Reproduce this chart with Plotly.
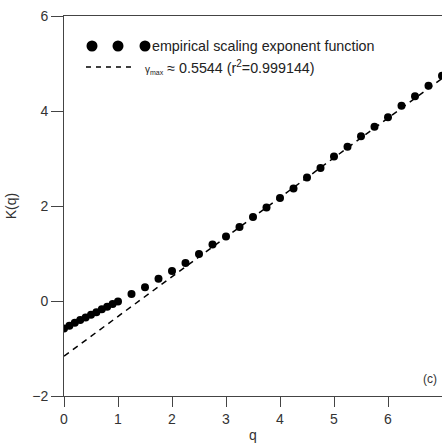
import plotly.graph_objects as go

# Empirical scaling exponent function K(q)
q_values = [0.0, 0.1, 0.2, 0.3, 0.4, 0.5, 0.6, 0.7, 0.8, 0.9, 1.0,
            1.25, 1.5, 1.75, 2.0, 2.25, 2.5, 2.75, 3.0, 3.25, 3.5, 3.75,
            4.0, 4.25, 4.5, 4.75, 5.0, 5.25, 5.5, 5.75, 6.0, 6.25, 6.5, 6.75, 7.0]
k_values = [-0.58, -0.52, -0.46, -0.40, -0.345, -0.29, -0.235, -0.175, -0.12, -0.065, -0.01,
            0.15, 0.29, 0.47, 0.63, 0.80, 0.99, 1.19, 1.36, 1.56, 1.77, 1.97,
            2.17, 2.37, 2.60, 2.80, 3.04, 3.25, 3.47, 3.67, 3.87, 4.11, 4.31, 4.53, 4.74]

# Linear fit (dashed)
fit_intercept = -1.16
fit_slope = 0.835
fit_q = [0.0, 7.1]
fit_k = [fit_intercept + fit_slope * v for v in fit_q]

x_ticks = [0, 1, 2, 3, 4, 5, 6, 7]
y_ticks = [-2, 0, 2, 4, 6]

FONT = "Liberation Sans, Arial, sans-serif"
AXC = "#444444"
TXT = "#333333"

fig = go.Figure()
fig.add_trace(go.Scatter(x=fit_q, y=fit_k, mode="lines",
                         line=dict(color="black", width=1.5, dash="6px,5px"),
                         showlegend=False, hoverinfo="skip"))
fig.add_trace(go.Scatter(x=q_values, y=k_values, mode="markers",
                         marker=dict(color="black", size=8, symbol="circle"),
                         showlegend=False))

# Manual legend
W_PLOT = 442 - 64
H_PLOT = 396 - 16
def px_x(p):
    return (p - 64) / W_PLOT
def px_y(p):
    return (396 - p) / H_PLOT

shapes = []
for cx in [92, 118, 145]:
    shapes.append(dict(type="circle", xref="paper", yref="paper",
                       xsizemode="pixel", ysizemode="pixel",
                       xanchor=px_x(cx), yanchor=px_y(46),
                       x0=-5.5, x1=5.5, y0=-5.5, y1=5.5,
                       fillcolor="black", line=dict(color="black", width=0)))
shapes.append(dict(type="line", xref="paper", yref="paper",
                   x0=px_x(86), x1=px_x(135), y0=px_y(67), y1=px_y(67),
                   line=dict(color="black", width=1.5, dash="5px,5px")))

annotations = [
    dict(text="empirical scaling exponent function", xref="paper", yref="paper",
         x=px_x(150), y=px_y(46), xanchor="left", yanchor="middle", showarrow=False,
         font=dict(family=FONT, size=14.3, color="#222")),
    dict(text="<span style='font-size:10px'>γ<sub>max</sub></span> ≈ 0.5544 (r<sup>2</sup>=0.999144)",
         xref="paper", yref="paper",
         x=px_x(143), y=px_y(67), xanchor="left", yanchor="middle", showarrow=False,
         font=dict(family=FONT, size=14.3, color="#222")),
    dict(text="(c)", xref="paper", yref="paper",
         x=px_x(430), y=px_y(379), xanchor="center", yanchor="middle", showarrow=False,
         font=dict(family=FONT, size=12, color=TXT)),
]

fig.update_layout(
    width=442, height=448,
    margin=dict(l=64, r=0, t=16, b=52),
    paper_bgcolor="white", plot_bgcolor="white",
    font=dict(family=FONT, size=14, color=TXT),
    showlegend=False,
    shapes=shapes, annotations=annotations,
    xaxis=dict(range=[0, 7.0], tickvals=x_ticks, ticks="outside", ticklen=10,
               tickcolor=AXC, tickwidth=1, showline=True, linecolor=AXC, linewidth=1,
               mirror=True, showgrid=False, zeroline=False,
               title=dict(text="q", standoff=4, font=dict(size=14)),
               tickfont=dict(size=14)),
    yaxis=dict(range=[-2, 6], tickvals=y_ticks, ticks="outside", ticklen=12,
               tickcolor=AXC, tickwidth=1, showline=True, linecolor=AXC, linewidth=1,
               mirror=False, showgrid=False, zeroline=False,
               title=dict(text="K(q)", standoff=12, font=dict(size=14)),
               tickfont=dict(size=14)),
)

fig.write_html("out.html", config={"displayModeBar": False},
               post_script="document.body.style.margin='0';document.body.style.overflow='hidden';")
